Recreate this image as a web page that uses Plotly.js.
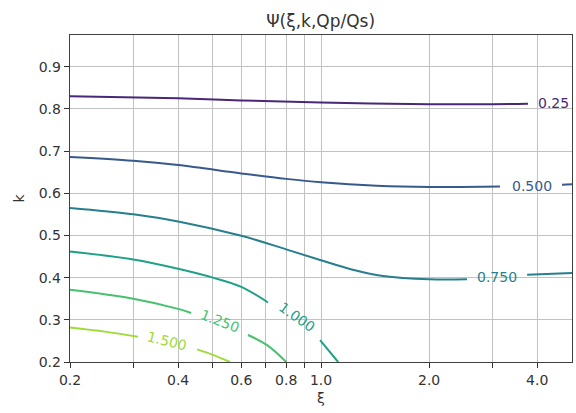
<!DOCTYPE html>
<html>
<head>
<meta charset="utf-8">
<script src="https://cdn.plot.ly/plotly-3.0.1.min.js"></script>
<style>html,body{margin:0;padding:0;background:#fff;}</style>
</head>
<body>
<div id="chart" style="width:576px;height:413px;"></div>
<script>
// Contour levels and their labels
const levels = [0.25, 0.5, 0.75, 1.0, 1.25, 1.5];
const levelLabels = ["0.25", "0.500", "0.750", "1.000", "1.250", "1.500"];
const levelColors = ["#482878", "#38598c", "#277f8e", "#1fa088", "#48c16e", "#a0da39"];

// Contour line points (null = gap for inline label)
const psi025_x = [0.2, 0.4, 0.6, 1.0, 2.0, 3.0, 3.77];
const psi025_y = [0.830, 0.825, 0.820, 0.815, 0.811, 0.811, 0.812];

const psi050_x = [0.2, 0.3, 0.4, 0.6, 0.8, 1.0, 1.43, 2.0, 3.15, null, 4.69, 5.0];
const psi050_y = [0.686, 0.677, 0.667, 0.647, 0.634, 0.626, 0.618, 0.615, 0.616, null, 0.620, 0.621];

const psi075_x = [0.2, 0.3, 0.4, 0.6, 0.8, 1.0, 1.21, 1.49, 2.0, 2.55, null, 3.75, 5.0];
const psi075_y = [0.565, 0.550, 0.533, 0.499, 0.467, 0.441, 0.420, 0.404, 0.396, 0.396, null, 0.407, 0.411];

const psi100_x = [0.2, 0.3, 0.4, 0.5, 0.6, 0.712, null, 0.994, 1.116];
const psi100_y = [0.462, 0.443, 0.421, 0.400, 0.378, 0.341, null, 0.252, 0.2];

const psi125_x = [0.2, 0.3, 0.4, 0.435, null, 0.626, 0.708, 0.8];
const psi125_y = [0.371, 0.350, 0.326, 0.316, null, 0.264, 0.240, 0.2];

const psi150_x = [0.2, 0.25, 0.309, null, 0.452, 0.5, 0.558];
const psi150_y = [0.282, 0.272, 0.260, null, 0.230, 0.217, 0.2];

// Inline label positions and angles
const label_x = [4.45, 3.87, 3.09, 0.858, 0.523, 0.373];
const label_y = [0.813, 0.617, 0.402, 0.307, 0.297, 0.250];
const label_angle = [0, 0, 0, 35, 21, 14];

// Axis ticks
const xTickVals = [0.2, 0.3, 0.4, 0.5, 0.6, 0.7, 0.8, 0.9, 1.0, 2.0, 3.0, 4.0];
const xTickText = ["0.2", "", "0.4", "", "0.6", "", "0.8", "", "1.0", "2.0", "", "4.0"];
const yTickVals = [0.2, 0.3, 0.4, 0.5, 0.6, 0.7, 0.8, 0.9];
const yTickText = ["0.2", "0.3", "0.4", "0.5", "0.6", "0.7", "0.8", "0.9"];

const seriesX = [psi025_x, psi050_x, psi075_x, psi100_x, psi125_x, psi150_x];
const seriesY = [psi025_y, psi050_y, psi075_y, psi100_y, psi125_y, psi150_y];

const traces = levels.map((lv, i) => ({
  type: "scatter",
  mode: "lines",
  x: seriesX[i],
  y: seriesY[i],
  connectgaps: false,
  line: {color: levelColors[i], width: 2, shape: "spline", smoothing: 1.0},
  name: levelLabels[i],
  hoverinfo: "skip"
}));

const annotations = levels.map((lv, i) => ({
  x: Math.log10(label_x[i]),
  y: label_y[i],
  xref: "x", yref: "y",
  text: levelLabels[i],
  showarrow: false,
  textangle: label_angle[i],
  font: {family: "DejaVu Sans", size: 14, color: levelColors[i]},
  xanchor: "center", yanchor: "middle"
}));

const font = {family: "DejaVu Sans", size: 14, color: "#333333"};

const layout = {
  width: 576, height: 413,
  margin: {l: 70, r: 4, t: 35, b: 51},
  paper_bgcolor: "#ffffff",
  plot_bgcolor: "#ffffff",
  showlegend: false,
  font: font,
  title: {
    text: "Ψ(ξ,k,Qp/Qs)",
    font: {family: "DejaVu Sans", size: 17, color: "#333333"},
    x: 0.5567, xref: "container", xanchor: "center",
    y: 0.949, yref: "container", yanchor: "middle"
  },
  xaxis: {
    type: "log",
    range: [Math.log10(0.2), Math.log10(5.0)],
    tickvals: xTickVals,
    ticktext: xTickText,
    ticks: "outside", ticklen: 5, tickcolor: "#333333", tickwidth: 1,
    showgrid: true, gridcolor: "#c2c2c2", gridwidth: 1,
    showline: true, linecolor: "#404040", linewidth: 1.3, mirror: true,
    zeroline: false,
    tickfont: font,
    title: {text: "ξ", font: font, standoff: 6}
  },
  yaxis: {
    range: [0.2, 0.975],
    tickvals: yTickVals,
    ticktext: yTickText,
    ticks: "outside", ticklen: 5, tickcolor: "#333333", tickwidth: 1,
    showgrid: true, gridcolor: "#c2c2c2", gridwidth: 1,
    showline: true, linecolor: "#404040", linewidth: 1.3, mirror: true,
    zeroline: false,
    tickfont: font,
    title: {text: "k", font: font, standoff: 10}
  },
  annotations: annotations
};

Plotly.newPlot("chart", traces, layout, {staticPlot: true, displayModeBar: false});
</script>
</body>
</html>
